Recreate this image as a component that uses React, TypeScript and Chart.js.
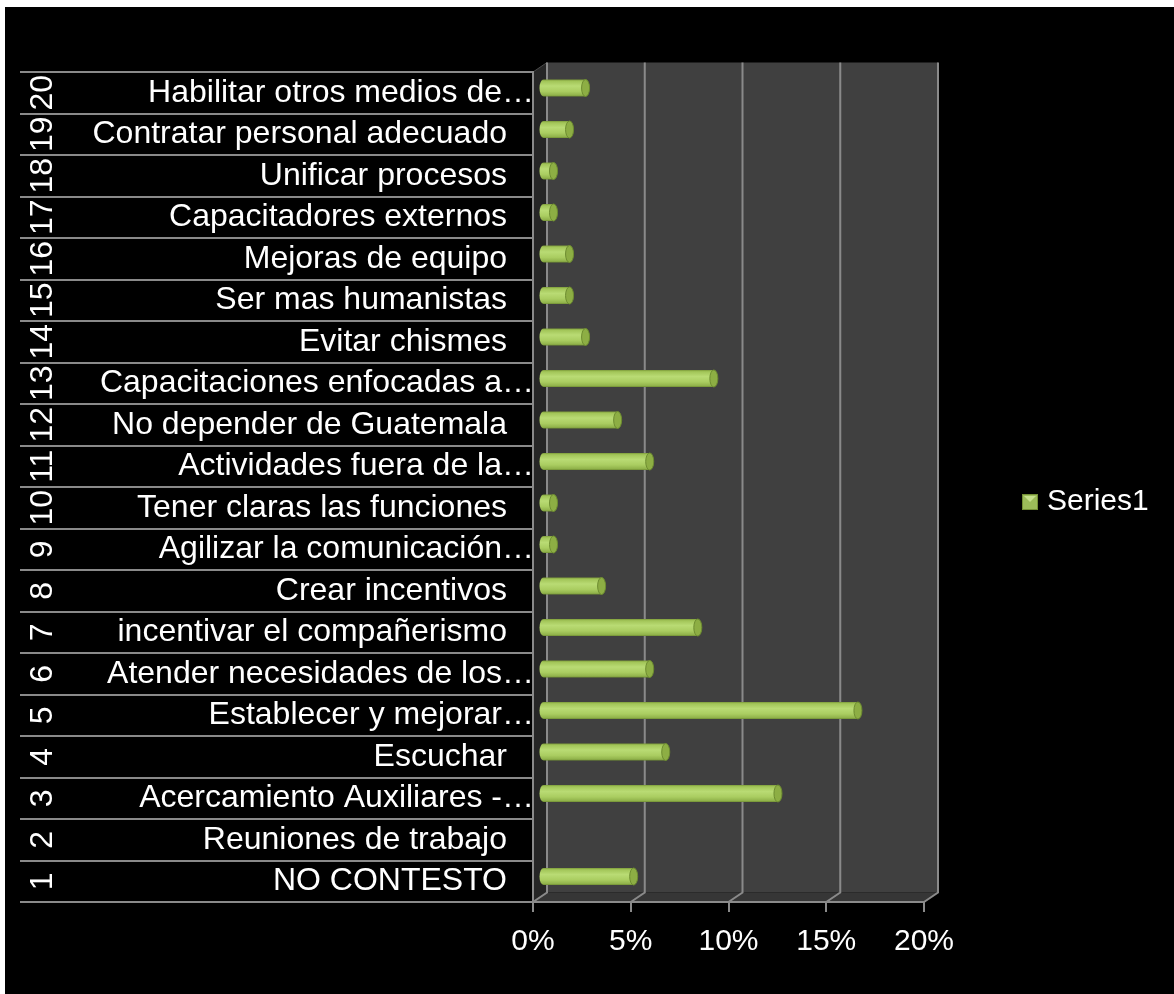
import { useEffect, useRef } from "react";
import { Chart, registerables } from "chart.js";

Chart.register(...registerables);

// ---- data ----
const categoryNumbers = ["1", "2", "3", "4", "5", "6", "7", "8", "9", "10", "11", "12", "13", "14", "15", "16", "17", "18", "19", "20"];
const categoryLabels = [
  "NO CONTESTO",
  "Reuniones de trabajo",
  "Acercamiento Auxiliares -…",
  "Escuchar",
  "Establecer y mejorar…",
  "Atender necesidades de los…",
  "incentivar el compañerismo",
  "Crear incentivos",
  "Agilizar la comunicación…",
  "Tener claras las funciones",
  "Actividades fuera de la…",
  "No depender de Guatemala",
  "Capacitaciones enfocadas a…",
  "Evitar chismes",
  "Ser mas humanistas",
  "Mejoras de equipo",
  "Capacitadores externos",
  "Unificar procesos",
  "Contratar personal adecuado",
  "Habilitar otros medios de…",
];
const seriesName = "Series1";
const seriesValues = [4.92, 0, 12.3, 6.56, 16.39, 5.74, 8.2, 3.28, 0.82, 0.82, 5.74, 4.1, 9.02, 2.46, 1.64, 1.64, 0.82, 0.82, 1.64, 2.46];
const xTicks = [0, 5, 10, 15, 20];

// ---- styles ----
const FONT = '"Liberation Sans", Arial, sans-serif';
const GRID = "#8a8a8a";
const DX = 14;
const DY = 9.5;
const BAR_DX = 4.5;
const BAR_DY = 4.75;

const threeD = {
  id: "threeD",
  beforeDraw(chart: any) {
    const { ctx, chartArea: a } = chart;
    const x = chart.scales.x;
    ctx.save();
    // back wall
    ctx.fillStyle = "#404040";
    ctx.fillRect(a.left + DX, a.top - DY, a.right - a.left, a.bottom - a.top);
    // left wall
    ctx.fillStyle = "#262626";
    ctx.beginPath();
    ctx.moveTo(a.left, a.top);
    ctx.lineTo(a.left + DX, a.top - DY);
    ctx.lineTo(a.left + DX, a.bottom - DY);
    ctx.lineTo(a.left, a.bottom);
    ctx.closePath();
    ctx.fill();
    ctx.strokeStyle = "#4a4a4a";
    ctx.lineWidth = 1;
    ctx.beginPath();
    ctx.moveTo(a.left, a.top);
    ctx.lineTo(a.left + DX, a.top - DY);
    ctx.stroke();
    // floor
    ctx.fillStyle = "#363636";
    ctx.beginPath();
    ctx.moveTo(a.left, a.bottom);
    ctx.lineTo(a.left + DX, a.bottom - DY);
    ctx.lineTo(a.right + DX, a.bottom - DY);
    ctx.lineTo(a.right, a.bottom);
    ctx.closePath();
    ctx.fill();
    // gridlines on back wall + floor
    ctx.strokeStyle = GRID;
    ctx.lineWidth = 2;
    for (const v of xTicks) {
      const px = x.getPixelForValue(v);
      ctx.beginPath();
      ctx.moveTo(px + DX, a.top - DY);
      ctx.lineTo(px + DX, a.bottom - DY);
      ctx.lineTo(px, a.bottom);
      ctx.stroke();
    }
    ctx.restore();
  },
  beforeDatasetsDraw(chart: any) {
    const { ctx } = chart;
    const meta = chart.getDatasetMeta(0);
    ctx.save();
    meta.data.forEach((el: any, i: number) => {
      const v = seriesValues[i];
      if (!v) return;
      const p = el.getProps(["x", "y", "base", "height"], true);
      const r = p.height / 2;
      const rx = 4;
      const yc = p.y - BAR_DY;
      const xs = p.base + BAR_DX + 1 + rx;
      const xe = p.x + BAR_DX;
      const g = ctx.createLinearGradient(0, yc - r, 0, yc + r);
      g.addColorStop(0, "#7d9c3a");
      g.addColorStop(0.1, "#a2c558");
      g.addColorStop(0.38, "#b9db74");
      g.addColorStop(0.7, "#aacd61");
      g.addColorStop(0.92, "#91b34b");
      g.addColorStop(1, "#708e33");
      ctx.fillStyle = g;
      ctx.beginPath();
      ctx.moveTo(xe, yc - r);
      ctx.lineTo(xs, yc - r);
      ctx.ellipse(xs, yc, rx, r, 0, -Math.PI / 2, Math.PI / 2, true);
      ctx.lineTo(xe, yc + r);
      ctx.closePath();
      ctx.fill();
      ctx.beginPath();
      ctx.ellipse(xe, yc, rx, r, 0, 0, Math.PI * 2);
      ctx.fillStyle = "#8dae44";
      ctx.fill();
      ctx.strokeStyle = "#6d8c30";
      ctx.lineWidth = 1;
      ctx.stroke();
    });
    ctx.restore();
    return false;
  },
  afterDraw(chart: any) {
    const { ctx, chartArea: a } = chart;
    const y = chart.scales.y;
    ctx.save();
    ctx.fillStyle = "#ffffff";
    ctx.textBaseline = "middle";
    categoryLabels.forEach((lab, i) => {
      const py = y.getPixelForValue(i);
      ctx.font = `32px ${FONT}`;
      ctx.textAlign = "right";
      const truncated = lab.endsWith("…");
      ctx.fillText(lab, truncated ? a.left + 1 : a.left - 26, py);
      ctx.save();
      ctx.translate(38, py);
      ctx.rotate(-Math.PI / 2);
      ctx.textAlign = "center";
      ctx.font = `32px ${FONT}`;
      ctx.fillText(categoryNumbers[i], 0, 0);
      ctx.restore();
    });
    // legend
    const lx = a.right + 98;
    const ly = (a.top + a.bottom) / 2 + 15;
    ctx.fillStyle = "#9bbb59";
    ctx.fillRect(lx, ly - 8, 16, 16);
    ctx.fillStyle = "#c6e08c";
    ctx.beginPath();
    ctx.moveTo(lx + 2, ly - 6);
    ctx.lineTo(lx + 14, ly - 6);
    ctx.lineTo(lx + 8, ly);
    ctx.closePath();
    ctx.fill();
    ctx.strokeStyle = "#738f35";
    ctx.lineWidth = 1;
    ctx.strokeRect(lx + 0.5, ly - 7.5, 15, 15);
    ctx.fillStyle = "#ffffff";
    ctx.font = `30px ${FONT}`;
    ctx.textAlign = "left";
    ctx.fillText(seriesName, lx + 25, ly);
    ctx.restore();
  },
};

export default function App() {
  const ref = useRef<HTMLCanvasElement | null>(null);
  useEffect(() => {
    if (!ref.current) return;
    const chart = new Chart(ref.current, {
      type: "bar",
      data: {
        labels: categoryLabels,
        datasets: [
          {
            label: seriesName,
            data: seriesValues,
            backgroundColor: "#9bbb59",
            categoryPercentage: 1,
            barPercentage: 0.41,
          },
        ],
      },
      options: {
        indexAxis: "y",
        animation: false,
        responsive: true,
        maintainAspectRatio: false,
        layout: { padding: { left: 15, top: 65, right: 250, bottom: 32 } },
        plugins: { legend: { display: false }, tooltip: { enabled: false } },
        scales: {
          x: {
            type: "linear",
            position: "bottom",
            min: 0,
            max: 20,
            afterBuildTicks: (s: any) => {
              s.ticks = xTicks.map((v) => ({ value: v }));
            },
            afterFit: (s: any) => {
              s.height = 60;
            },
            ticks: {
              color: "#ffffff",
              font: { family: FONT, size: 30 },
              padding: 12,
              maxRotation: 0,
              autoSkip: false,
              callback: (v: any) => `${v}%`,
            },
            grid: { drawOnChartArea: false, drawTicks: true, tickLength: 10, color: GRID, lineWidth: 2 },
            border: { display: true, color: GRID, width: 2 },
          },
          y: {
            type: "category",
            position: "left",
            reverse: true,
            afterFit: (s: any) => {
              s.width = 513;
            },
            ticks: { display: false },
            grid: { offset: true, drawOnChartArea: false, drawTicks: true, tickLength: 513, color: GRID, lineWidth: 2 },
            border: { display: true, color: GRID, width: 2 },
          },
        },
      },
      plugins: [threeD],
    } as any);
    return () => chart.destroy();
  }, []);
  return (
    <div style={{ position: "absolute", left: 5, top: 7, width: 1169, height: 987, background: "#000" }}>
      <canvas ref={ref} />
    </div>
  );
}
